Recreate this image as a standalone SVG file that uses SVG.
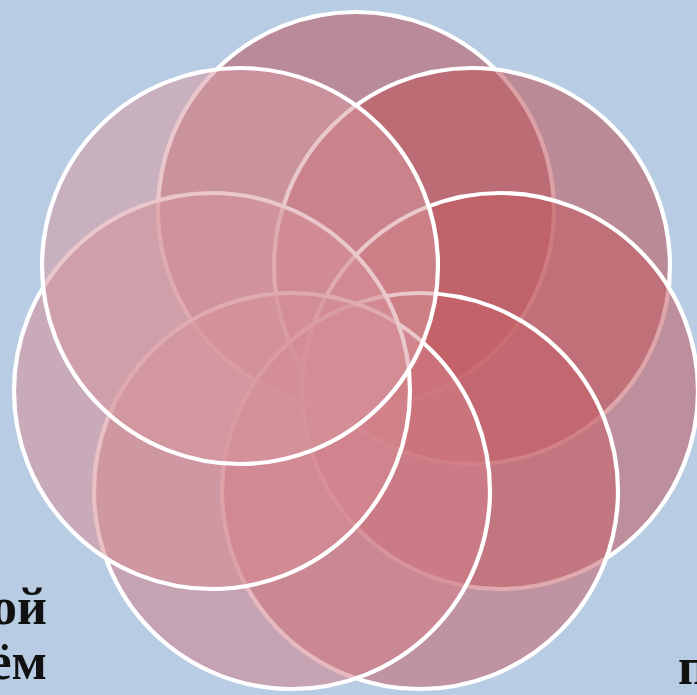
<svg xmlns="http://www.w3.org/2000/svg" width="697" height="695" viewBox="0 0 697 695">
  <style>
    .petal { stroke: #ffffff; stroke-width: 4.2; fill-opacity: 0.54; }
    .lbl { font-family: "Liberation Serif", "Times New Roman", serif; font-weight: bold; font-size: 52px; fill: #111111; }
  </style>
  <rect x="0" y="0" width="697" height="695" fill="#b8cde3"/>
  <g id="texts">
    <text class="lbl" x="47" y="624" text-anchor="end">ой</text>
    <text class="lbl" x="47" y="679" text-anchor="end">ём</text>
    <text class="lbl" x="678" y="684">п</text>
  </g>
  <g id="circle-top"><circle class="petal" cx="356" cy="210" r="198" fill="rgb(186,84,88)"/></g>
  <g id="circle-top-right"><circle class="petal" cx="472" cy="266" r="198" fill="rgb(190,82,86)"/></g>
  <g id="circle-right"><circle class="petal" cx="500" cy="391" r="198" fill="rgb(194,90,96)"/></g>
  <g id="circle-bottom-right"><circle class="petal" cx="420" cy="491" r="198" fill="rgb(198,98,106)"/></g>
  <g id="circle-bottom-left"><circle class="petal" cx="292" cy="491" r="198" fill="rgb(210,128,136)"/></g>
  <g id="circle-left"><circle class="petal" cx="212" cy="391" r="198" fill="rgb(214,140,148)"/></g>
  <g id="circle-top-left"><circle class="petal" cx="240" cy="266" r="198" fill="rgb(214,152,158)"/></g>
  <g id="connectors"></g>
</svg>
